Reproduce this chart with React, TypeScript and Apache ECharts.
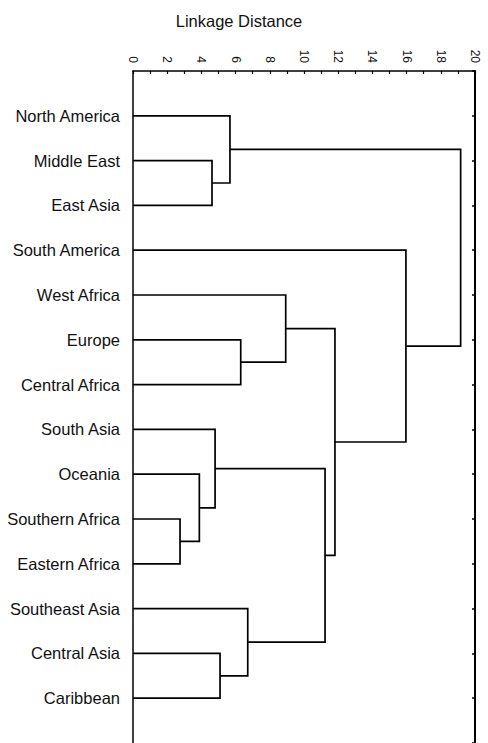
import React, { useEffect, useRef } from "react";
import * as echarts from "echarts";

// Leaves, top to bottom
const leaves = [
  "North America",
  "Middle East",
  "East Asia",
  "South America",
  "West Africa",
  "Europe",
  "Central Africa",
  "South Asia",
  "Oceania",
  "Southern Africa",
  "Eastern Africa",
  "Southeast Asia",
  "Central Asia",
  "Caribbean",
];

// Merges: node ids 0..13 are leaves, merge k creates node 14+k
const mergeLeft = [1, 0, 5, 4, 9, 8, 7, 12, 11, 20, 17, 3, 15];
const mergeRight = [2, 14, 6, 16, 10, 18, 19, 13, 21, 22, 23, 24, 25];
const mergeHeight = [4.62, 5.67, 6.3, 8.93, 2.75, 3.88, 4.8, 5.09, 6.71, 11.23, 11.81, 15.96, 19.16];

const xMin = 0;
const xMax = 20;
const xInterval = 2;

function buildLinks() {
  const nodeX: number[] = leaves.map(() => 0);
  const nodeY: number[] = leaves.map((_, i) => i + 1);
  const links: number[][][] = [];
  for (let k = 0; k < mergeHeight.length; k++) {
    const l = mergeLeft[k];
    const r = mergeRight[k];
    const h = mergeHeight[k];
    links.push([
      [nodeX[l], nodeY[l]],
      [h, nodeY[l]],
      [h, nodeY[r]],
      [nodeX[r], nodeY[r]],
    ]);
    nodeX.push(h);
    nodeY.push((nodeY[l] + nodeY[r]) / 2);
  }
  return links;
}

export default function App() {
  const ref = useRef<HTMLDivElement>(null);
  useEffect(() => {
    if (!ref.current) return;
    const chart = echarts.init(ref.current, null, { renderer: "svg" });
    const links = buildLinks();
    const font = "'Liberation Sans', Arial, sans-serif";
    const yBase = {
      type: "value" as const,
      min: 0,
      max: leaves.length + 1,
      interval: 1,
      inverse: true,
      splitLine: { show: false },
    };
    chart.setOption({
      animation: false,
      backgroundColor: "#ffffff",
      graphic: [
        {
          type: "text",
          x: 239,
          y: 21,
          style: {
            text: "Linkage Distance",
            fontFamily: font,
            fontSize: 16.5,
            fill: "#111",
            textAlign: "center",
            textVerticalAlign: "middle",
          },
        },
      ],
      grid: { left: 133, top: 71, width: 342, height: 676 },
      xAxis: {
        type: "value",
        position: "top",
        min: xMin,
        max: xMax,
        interval: xInterval,
        axisLine: { show: true, lineStyle: { color: "#000", width: 1.5 } },
        axisTick: { show: true, inside: true, length: 3, lineStyle: { color: "#000", width: 1.2 } },
        minorTick: { show: true, splitNumber: 2, length: 3, lineStyle: { color: "#000", width: 1.2 } },
        axisLabel: {
          rotate: -90,
          margin: 8,
          fontSize: 12,
          fontFamily: font,
          color: "#111",
        },
        splitLine: { show: false },
      },
      yAxis: [
        {
          ...yBase,
          position: "left",
          axisLine: { show: true, lineStyle: { color: "#000", width: 1.5 } },
          axisTick: { show: false },
          axisLabel: {
            margin: 13,
            fontSize: 16.5,
            fontFamily: font,
            color: "#111",
            formatter: (v: number) => leaves[v - 1] ?? "",
          },
        },
        {
          ...yBase,
          position: "right",
          axisLine: { show: true, lineStyle: { color: "#000", width: 2 } },
          axisTick: { show: true, inside: true, length: 3, lineStyle: { color: "#000", width: 1.5 } },
          axisLabel: { show: false },
        },
      ],
      series: [
        {
          type: "lines",
          coordinateSystem: "cartesian2d",
          xAxisIndex: 0,
          yAxisIndex: 0,
          polyline: true,
          silent: true,
          lineStyle: { color: "#000", width: 1.7, opacity: 1 },
          data: links.map((c) => ({ coords: c })),
        },
      ],
    });
    return () => chart.dispose();
  }, []);
  return (
    <div
      ref={ref}
      style={{ position: "fixed", left: 0, top: 0, width: 488, height: 743, background: "#fff" }}
    />
  );
}
